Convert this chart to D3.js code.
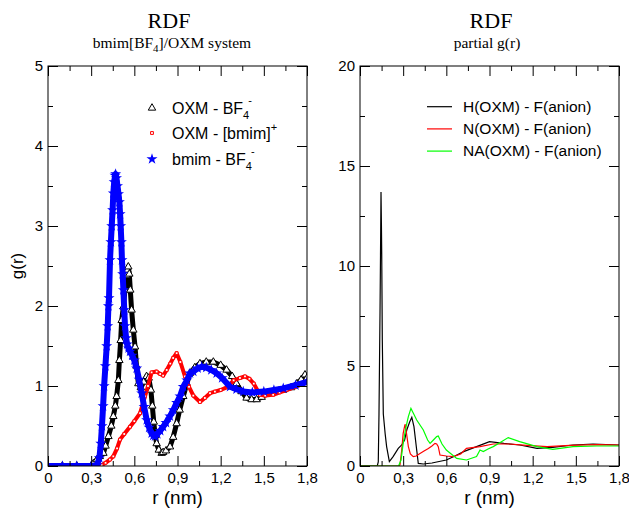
<!DOCTYPE html>
<html>
<head>
<meta charset="utf-8">
<script src="https://cdn.jsdelivr.net/npm/d3@7"></script>
<style>
  body { margin: 0; background: #fff; }
  text { font-family: "Liberation Sans", Arial, sans-serif; }
  .serif { font-family: "Liberation Serif", "Times New Roman", serif; }
</style>
</head>
<body>
<div id="chart"></div>
<script>
// ---- left panel data: total RDFs ----
var rOxmBf4 = [0, 0.1, 0.2, 0.3, 0.315, 0.34, 0.36, 0.385, 0.40, 0.42, 0.44, 0.454, 0.468, 0.477, 0.489, 0.496, 0.505, 0.512, 0.524, 0.535, 0.545, 0.552, 0.558, 0.565, 0.572, 0.581, 0.593, 0.605, 0.615, 0.628, 0.645, 0.665, 0.685, 0.70, 0.715, 0.725, 0.735, 0.745, 0.755, 0.77, 0.79, 0.80, 0.82, 0.848, 0.87, 0.894, 0.915, 0.94, 0.965, 0.987, 1.02, 1.056, 1.10, 1.149, 1.20, 1.241, 1.28, 1.31, 1.345, 1.38, 1.415, 1.45, 1.485, 1.52, 1.58, 1.635, 1.69, 1.73, 1.76, 1.786, 1.8]
var gOxmBf4 = [0, 0, 0, 0, 0.03, 0.08, 0.12, 0.16, 0.25, 0.37, 0.5, 0.62, 0.75, 0.87, 1.07, 1.32, 1.57, 1.82, 1.99, 2.2, 2.38, 2.45, 2.49, 2.4, 2.2, 1.95, 1.7, 1.49, 1.25, 1.03, 0.98, 1.05, 1.12, 1.1, 0.95, 0.75, 0.55, 0.38, 0.28, 0.2, 0.16, 0.17, 0.19, 0.24, 0.36, 0.53, 0.7, 0.87, 1.03, 1.16, 1.23, 1.28, 1.3, 1.3, 1.26, 1.2, 1.12, 1.03, 0.93, 0.85, 0.83, 0.83, 0.86, 0.91, 0.93, 0.95, 0.98, 1.03, 1.08, 1.14, 1.1]

var rOxmBmim = [0, 0.1, 0.2, 0.3, 0.373, 0.4, 0.43, 0.454, 0.48, 0.5, 0.53, 0.57, 0.6, 0.64, 0.674, 0.695, 0.72, 0.755, 0.78, 0.80, 0.825, 0.85, 0.87, 0.894, 0.92, 0.952, 0.98, 1.01, 1.056, 1.09, 1.126, 1.16, 1.2, 1.25, 1.29, 1.334, 1.369, 1.40, 1.43, 1.473, 1.51, 1.565, 1.61, 1.658, 1.72, 1.773, 1.8]
var gOxmBmim = [0, 0, 0, 0, 0.01, 0.04, 0.08, 0.12, 0.22, 0.33, 0.4, 0.49, 0.56, 0.66, 0.87, 1.0, 1.17, 1.18, 1.15, 1.13, 1.2, 1.28, 1.35, 1.41, 1.3, 1.12, 0.99, 0.88, 0.8, 0.85, 0.91, 0.93, 0.95, 0.99, 1.07, 1.1, 1.12, 1.09, 1.03, 0.89, 0.88, 0.89, 0.92, 0.95, 0.99, 1.03, 1.05]

var rBmimBf4 = [0, 0.1, 0.2, 0.3, 0.34, 0.357, 0.367, 0.375, 0.383, 0.39, 0.399, 0.408, 0.415, 0.42, 0.424, 0.431, 0.437, 0.443, 0.449, 0.454, 0.46, 0.466, 0.47, 0.476, 0.483, 0.49, 0.496, 0.501, 0.505, 0.51, 0.514, 0.519, 0.524, 0.53, 0.535, 0.543, 0.55, 0.56, 0.57, 0.585, 0.6, 0.616, 0.633, 0.651, 0.668, 0.686, 0.703, 0.72, 0.732, 0.744, 0.76, 0.78, 0.80, 0.82, 0.847, 0.871, 0.894, 0.917, 0.94, 0.965, 0.987, 1.01, 1.04, 1.068, 1.1, 1.135, 1.172, 1.21, 1.265, 1.31, 1.357, 1.42, 1.5, 1.57, 1.635, 1.72, 1.8]
var gBmimBf4 = [0, 0, 0, 0, 0.01, 0.1, 0.28, 0.5, 0.75, 1.0, 1.25, 1.5, 1.75, 2.0, 2.1, 2.575, 2.8, 3.0, 3.2, 3.41, 3.55, 3.63, 3.65, 3.6, 3.5, 3.4, 3.3, 3.15, 3.0, 2.8, 2.575, 2.4, 2.2, 1.95, 1.75, 1.6, 1.52, 1.47, 1.43, 1.38, 1.32, 1.22, 1.08, 0.91, 0.74, 0.575, 0.48, 0.41, 0.38, 0.37, 0.4, 0.44, 0.49, 0.54, 0.62, 0.7, 0.79, 0.87, 0.99, 1.07, 1.16, 1.18, 1.22, 1.24, 1.23, 1.2, 1.16, 1.1, 0.99, 0.96, 0.93, 0.92, 0.93, 0.95, 0.97, 1.01, 1.05]

// ---- right panel data: partial g(r) ----
var rH = [0, 0.12, 0.127, 0.132, 0.139, 0.144, 0.146, 0.149, 0.151, 0.155, 0.162, 0.175, 0.185, 0.204, 0.23, 0.266, 0.29, 0.31, 0.325, 0.345, 0.36, 0.375, 0.394, 0.405, 0.44, 0.5, 0.6, 0.66, 0.72, 0.81, 0.9, 1.0, 1.11, 1.23, 1.34, 1.48, 1.62, 1.8]
var gH = [0, 0, 0.2, 2.6, 7.6, 11.8, 13.7, 12.0, 10.6, 6.3, 2.6, 1.6, 0.97, 0.22, 0.47, 0.88, 1.05, 1.3, 1.8, 2.2, 2.43, 1.97, 0.8, 0.13, 0.1, 0.15, 0.3, 0.5, 0.72, 0.97, 1.22, 1.13, 1.05, 0.88, 0.93, 1.05, 1.1, 1.05]

var rN = [0, 0.27, 0.278, 0.29, 0.30, 0.313, 0.322, 0.336, 0.35, 0.37, 0.39, 0.417, 0.445, 0.475, 0.5, 0.521, 0.533, 0.544, 0.556, 0.6, 0.648, 0.7, 0.74, 0.834, 0.926, 1.04, 1.16, 1.3, 1.46, 1.645, 1.8]
var gN = [0, 0, 0.05, 0.8, 1.63, 2.1, 1.7, 0.97, 0.6, 0.47, 0.5, 0.63, 0.75, 0.88, 1.0, 1.13, 1.1, 0.97, 0.55, 0.5, 0.47, 0.6, 0.88, 0.97, 1.1, 1.1, 1.03, 0.97, 1.03, 1.07, 1.05]

var rNA = [0, 0.268, 0.285, 0.30, 0.318, 0.336, 0.354, 0.37, 0.394, 0.44, 0.47, 0.487, 0.51, 0.533, 0.544, 0.57, 0.6, 0.672, 0.74, 0.81, 0.834, 0.857, 0.89, 0.926, 0.98, 1.03, 1.11, 1.23, 1.34, 1.48, 1.645, 1.8]
var gNA = [0, 0, 0.3, 1.13, 1.9, 2.47, 2.88, 2.65, 2.3, 1.8, 1.3, 1.13, 1.3, 1.47, 1.5, 1.1, 0.8, 0.38, 0.3, 0.47, 0.8, 0.72, 0.85, 0.97, 1.2, 1.42, 1.22, 0.97, 0.83, 0.97, 1.0, 1.0]

// ---- ticks ----
var xMajor = [0, 0.3, 0.6, 0.9, 1.2, 1.5, 1.8]
var xMinor = [0.15, 0.45, 0.75, 1.05, 1.35, 1.65]
var yMajorL = [0, 1, 2, 3, 4, 5]
var yMinorL = [0.5, 1.5, 2.5, 3.5, 4.5]
var yMajorR = [0, 5, 10, 15, 20]
var yMinorR = [2.5, 7.5, 12.5, 17.5]

var comma = d3.formatLocale({decimal: ",", thousands: ".", grouping: [3], currency: ["", ""]}).format("~g")

var svg = d3.select("#chart").append("svg")
  .attr("width", 629)
  .attr("height", 508)

function zip(rs, gs){ return rs.map((r,i)=>({r: r, g: gs[i]})) }

function drawFrame(x, y, yMajor, yMinor){
  var g = svg.append("g")
  var x0 = x.range()[0], x1 = x.range()[1], y0 = y.range()[0], y1 = y.range()[1]

  // bottom with labels
  g.append("g").attr("transform", "translate(0," + y0 + ")")
    .call(d3.axisBottom(x).tickValues(xMajor).tickSize(-10).tickSizeOuter(0).tickPadding(6).tickFormat(comma))
  g.append("g").attr("transform", "translate(0," + y0 + ")")
    .call(d3.axisBottom(x).tickValues(xMinor).tickSize(-5).tickSizeOuter(0).tickFormat(""))
  g.append("g").attr("transform", "translate(0," + y1 + ")")
    .call(d3.axisTop(x).tickValues(xMajor).tickSize(-10).tickSizeOuter(0).tickFormat(""))
  g.append("g").attr("transform", "translate(0," + y1 + ")")
    .call(d3.axisTop(x).tickValues(xMinor).tickSize(-5).tickSizeOuter(0).tickFormat(""))

  g.append("g").attr("transform", "translate(" + x0 + ",0)")
    .call(d3.axisLeft(y).tickValues(yMajor).tickSize(-10).tickSizeOuter(0).tickPadding(5).tickFormat(d3.format("d")))
  g.append("g").attr("transform", "translate(" + x0 + ",0)")
    .call(d3.axisLeft(y).tickValues(yMinor).tickSize(-5).tickSizeOuter(0).tickFormat(""))
  g.append("g").attr("transform", "translate(" + x1 + ",0)")
    .call(d3.axisRight(y).tickValues(yMajor).tickSize(-10).tickSizeOuter(0).tickFormat(""))
  g.append("g").attr("transform", "translate(" + x1 + ",0)")
    .call(d3.axisRight(y).tickValues(yMinor).tickSize(-5).tickSizeOuter(0).tickFormat(""))

  g.selectAll(".domain").remove()
  g.selectAll(".tick line").attr("stroke", "#000")
  g.selectAll(".tick text")
    .attr("fill", "#000")
    .style("font-family", "'Liberation Sans', Arial, sans-serif")
    .style("font-size", "15px")

  g.append("rect")
    .attr("x", x0).attr("y", y1)
    .attr("width", x1 - x0).attr("height", y0 - y1)
    .attr("fill", "none").attr("stroke", "#000").attr("stroke-width", 1)

  // x title
  svg.append("text")
    .attr("x", (x0 + x1) / 2).attr("y", 504)
    .attr("text-anchor", "middle")
    .style("font-size", "19px")
    .text("r (nm)")
}

// ---------------- left panel ----------------
var xL = d3.scaleLinear().domain([0, 1.8]).range([48, 307])
var yL = d3.scaleLinear().domain([0, 5]).range([466, 66])

var clipL = svg.append("clipPath").attr("id", "clipL")
clipL.append("rect").attr("x", 48).attr("y", 66).attr("width", 259).attr("height", 400)

var plotL = svg.append("g").attr("clip-path", "url(#clipL)")

var lineL = d3.line().x(d=>xL(d.r)).y(d=>yL(d.g))

var tri = d3.symbol().type(d3.symbolTriangle).size(24)
var sq = d3.symbol().type(d3.symbolSquare).size(8)
var star = d3.symbol().type(d3.symbolStar).size(38)

// black triangles: OXM - BF4-
var dBf4 = zip(rOxmBf4, gOxmBf4)
plotL.append("path").datum(dBf4)
  .attr("d", lineL).attr("fill", "none")
  .attr("stroke", "#000").attr("stroke-width", 5).attr("stroke-linejoin", "round")
plotL.selectAll(".tri").data(dBf4).enter()
  .append("path").attr("class", "tri")
  .attr("transform", d=>"translate(" + xL(d.r) + "," + yL(d.g) + ")")
  .attr("d", tri).attr("fill", "#fff").attr("stroke", "#000").attr("stroke-width", 1)

// red squares: OXM - [bmim]+
var dBmim = zip(rOxmBmim, gOxmBmim)
plotL.append("path").datum(dBmim)
  .attr("d", lineL).attr("fill", "none")
  .attr("stroke", "#f00").attr("stroke-width", 4).attr("stroke-linejoin", "round")
plotL.selectAll(".sq").data(dBmim).enter()
  .append("path").attr("class", "sq")
  .attr("transform", d=>"translate(" + xL(d.r) + "," + yL(d.g) + ")")
  .attr("d", sq).attr("fill", "#fff").attr("stroke", "#f00").attr("stroke-width", 1)

// blue stars: bmim - BF4-
var dBB = zip(rBmimBf4, gBmimBf4)
plotL.append("path").datum(dBB)
  .attr("d", lineL).attr("fill", "none")
  .attr("stroke", "#00f").attr("stroke-width", 6).attr("stroke-linejoin", "round")
plotL.selectAll(".star").data(dBB).enter()
  .append("path").attr("class", "star")
  .attr("transform", d=>"translate(" + xL(d.r) + "," + yL(d.g) + ")")
  .attr("d", star).attr("fill", "#00f")

drawFrame(xL, yL, yMajorL, yMinorL)

svg.append("text")
  .attr("transform", "translate(23,266) rotate(-90)")
  .attr("text-anchor", "middle")
  .style("font-size", "17px")
  .text("g(r)")

// left titles
svg.append("text").attr("class", "serif")
  .attr("x", 169).attr("y", 28).attr("text-anchor", "middle")
  .style("font-size", "22px").text("RDF")
var sub = svg.append("text").attr("class", "serif")
  .attr("x", 172).attr("y", 48).attr("text-anchor", "middle")
  .style("font-size", "15.5px")
sub.append("tspan").text("bmim[BF")
sub.append("tspan").attr("dy", 4).style("font-size", "11px").text("4")
sub.append("tspan").attr("dy", -4).text("]/OXM system")

// left legend
var legL = svg.append("g")
var legRows = [
  {y: 108, sym: tri, fill: "#fff", stroke: "#000", base: "OXM - BF", sub: "4", sup: "-"},
  {y: 133, sym: sq, fill: "#fff", stroke: "#f00", base: "OXM - [bmim]", sub: null, sup: "+"},
  {y: 159, sym: star, fill: "#00f", stroke: "none", base: "bmim - BF", sub: "4", sup: "-"}
]
legRows.forEach(function(row){
  legL.append("path")
    .attr("transform", "translate(152," + row.y + ")")
    .attr("d", row.sym).attr("fill", row.fill).attr("stroke", row.stroke)
  var t = legL.append("text").attr("x", 172).attr("y", row.y + 5.5).style("font-size", "16px")
  t.append("tspan").text(row.base)
  if (row.sub) {
    t.append("tspan").attr("dy", 5).style("font-size", "11px").text(row.sub)
    t.append("tspan").attr("dx", -1).attr("dy", -15).style("font-size", "11px").text(row.sup)
  } else {
    t.append("tspan").attr("dy", -8).style("font-size", "11px").text(row.sup)
  }
})

// ---------------- right panel ----------------
var xR = d3.scaleLinear().domain([0, 1.8]).range([360, 619])
var yR = d3.scaleLinear().domain([0, 20]).range([466, 66])

var clipR = svg.append("clipPath").attr("id", "clipR")
clipR.append("rect").attr("x", 360).attr("y", 66).attr("width", 259).attr("height", 400)
var plotR = svg.append("g").attr("clip-path", "url(#clipR)")

var lineR = d3.line().x(d=>xR(d.r)).y(d=>yR(d.g))

var partial = [
  {name: "H(OXM) - F(anion)", r: rH, g: gH, color: "#000"},
  {name: "N(OXM) - F(anion)", r: rN, g: gN, color: "#f00"},
  {name: "NA(OXM) - F(anion)", r: rNA, g: gNA, color: "#0f0"}
]

partial.forEach(function(s){
  plotR.append("path").datum(zip(s.r, s.g))
    .attr("d", lineR).attr("fill", "none")
    .attr("stroke", s.color).attr("stroke-width", 1.2)
})

drawFrame(xR, yR, yMajorR, yMinorR)

svg.append("text").attr("class", "serif")
  .attr("x", 491).attr("y", 28).attr("text-anchor", "middle")
  .style("font-size", "22px").text("RDF")
svg.append("text").attr("class", "serif")
  .attr("x", 487).attr("y", 48).attr("text-anchor", "middle")
  .style("font-size", "15.5px").text("partial g(r)")

var legR = svg.append("g")
partial.forEach(function(s, i){
  var yy = 106.7 + i * 22.2
  legR.append("line")
    .attr("x1", 427).attr("x2", 452).attr("y1", yy).attr("y2", yy)
    .attr("stroke", s.color).attr("stroke-width", 1.2)
  legR.append("text").attr("x", 463).attr("y", yy + 5)
    .style("font-size", "15.5px").text(s.name)
})
</script>
</body>
</html>
